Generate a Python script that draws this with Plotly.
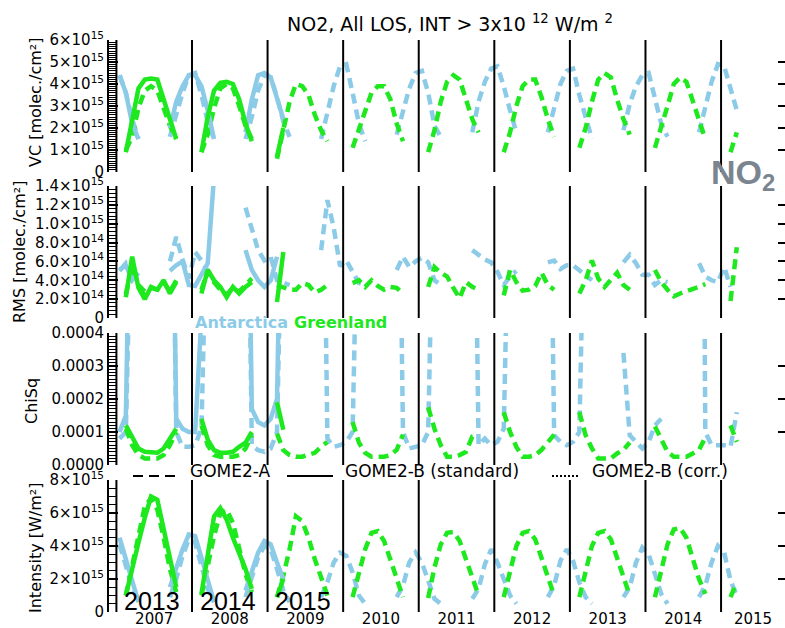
import plotly.graph_objects as go

N = None
YEARS_A = list(range(2007, 2016))          # GOME2-A (dashed), 2007-2015
YEARS_B = [2013, 2014, 2015]               # GOME2-B standard (solid), drawn in first three year slots
SLOTS_B = [2007, 2008, 2009]
MONTH_MID = [(m - 0.5) / 12 for m in range(1, 13)]

# ---------------- VC  (units of 1e15 molec/cm2) ----------------
vc_ant_A = [
    [4.4, 3.6, 2.4, 1.5, N, N, N, N, 1.6, 2.6, 3.6, 4.4],
    [4.5, 3.5, 2.3, 1.5, N, N, N, N, 1.5, 2.5, 3.7, 4.4],
    [4.3, 3.4, 2.3, 1.6, N, N, N, N, 1.5, 2.7, 3.9, 4.8],
    [4.9, 3.6, 2.2, 1.4, N, N, N, N, 1.7, 2.8, 3.8, 4.5],
    [4.6, 3.6, 2.1, 1.6, N, N, N, N, 1.8, 3.2, 4.1, 4.7],
    [4.8, 3.9, 2.8, 1.8, N, N, N, N, 1.8, 3.0, 4.0, 4.6],
    [4.7, 3.5, 2.4, 1.5, N, N, N, N, 1.9, 3.1, 3.9, 4.4],
    [4.5, 3.3, 2.2, 1.6, N, N, N, N, 1.8, 3.0, 4.1, 4.9],
    [4.8, 3.8, 2.8],
]
vc_gre_A = [
    [N, 1.0, 1.6, 2.9, 3.7, 3.9, 3.7, 2.9, 2.1, 1.5, N, N],
    [N, 0.9, 1.7, 2.9, 3.8, 4.0, 3.8, 3.0, 2.1, 1.5, N, N],
    [N, 0.6, 1.9, 3.2, 4.0, 3.9, 3.5, 2.6, 1.9, 1.4, N, N],
    [N, 1.1, 1.9, 2.8, 3.6, 3.9, 3.9, 3.3, 2.2, 1.4, N, N],
    [N, 0.9, 1.9, 3.2, 4.1, 4.4, 4.2, 3.3, 2.4, 1.8, N, N],
    [N, 0.9, 1.8, 3.0, 3.9, 4.2, 4.2, 3.4, 2.4, 1.6, N, N],
    [N, 1.1, 2.0, 3.2, 4.2, 4.5, 4.3, 3.3, 2.4, 1.7, N, N],
    [N, 1.1, 2.0, 3.0, 4.0, 4.3, 4.1, 3.2, 2.3, 1.5, N, N],
    [N, 0.9, 1.8],
]
vc_ant_B = [
    [4.4, 3.6, 2.2, 1.5, N, N, N, N, 2.0, 3.2, 3.9, 4.4],
    [4.4, 3.9, 2.8, 1.5, N, N, N, N, 1.8, 3.3, 4.4, 4.5],
    [4.3, 3.3, 2.4],
]
vc_gre_B = [
    [N, 0.9, 2.3, 3.8, 4.2, 4.25, 4.2, 3.3, 2.4, 1.5, N, N],
    [N, 0.9, 2.5, 3.7, 4.05, 4.1, 4.0, 3.3, 2.2, 1.4, N, N],
    [N, 0.7, 2.0],
]

# ---------------- RMS  (units of 1e14 molec/cm2) ----------------
rms_ant_A = [
    [5.0, 5.8, 4.6, 4.0, N, N, N, N, 6.0, 8.6, 6.2, 4.2],
    [7.0, 6.1, 5.0, 4.2, N, N, N, N, 11.7, 9.3, 7.2, 6.1],
    [6.5, 4.0, 3.8, 3.5, N, N, N, N, 7.2, 12.5, 9.6, 5.5],
    [6.1, 4.8, 3.7, 3.5, N, N, N, N, 5.1, 6.5, 5.4, 6.0],
    [6.4, 5.9, 4.0, 3.5, N, N, N, N, 7.2, 6.7, 6.2, 5.9],
    [4.9, 3.5, 4.4, 5.0, N, N, N, N, 5.9, 6.1, 5.2, 5.6],
    [5.6, 5.1, 4.6, 4.0, N, N, N, N, 5.9, 6.7, 5.8, 4.6],
    [4.6, 3.5, 4.0, 3.8, N, N, N, N, 5.8, 4.4, 4.0, 3.8],
    [5.4, 3.3],
]
rms_gre_A = [
    [N, 2.5, 5.5, 3.5, 2.8, 3.2, 3.0, 3.8, 2.8, 4.0, N, N],
    [N, 3.0, 5.0, 3.8, 3.0, 2.5, 3.2, 2.8, 3.5, 4.2, N, N],
    [N, 3.5, 3.2, 3.0, 3.0, 3.7, 3.5, 2.7, 3.0, 3.5, N, N],
    [N, 3.7, 4.0, 3.3, 4.0, 3.4, 3.0, 3.3, 3.2, 2.6, N, N],
    [N, 3.3, 5.4, 4.8, 4.4, 3.2, 2.1, 3.8, 3.3, 3.0, N, N],
    [N, 2.4, 5.1, 3.8, 2.9, 3.0, 3.4, 4.8, 3.5, 3.0, N, N],
    [N, 2.6, 4.0, 6.1, 4.2, 3.3, 4.0, 4.8, 3.5, 3.0, N, N],
    [N, 5.1, 3.8, 3.0, 2.3, 2.6, 2.8, 3.0, 3.3, 3.6, N, N],
    [N, 1.8, 7.5],
]
rms_ant_B = [
    [5.1, 5.6, 4.0, 4.8, N, N, N, N, 5.0, 5.6, 6.0, 3.5],
    [3.4, 4.5, 5.8, 15.0, N, N, N, N, 7.2, 5.1, 4.0, 3.3],
    [4.0, 6.5],
]
rms_gre_B = [
    [N, 2.2, 6.5, 3.2, 2.0, 3.3, 3.0, 4.0, 2.6, 3.8, N, N],
    [N, 2.6, 5.1, 4.0, 3.3, 2.2, 3.3, 2.6, 3.3, 3.8, N, N],
    [N, 1.7, 7.0],
]

# ---------------- ChiSq  (units of 1e-4) ----------------
chi_ant_A = [
    [0.8, 1.0, 9, 15, N, N, N, N, 15, 1.0, 0.55, 0.55],
    [0.6, 1.1, 9, 15, N, N, N, N, 15, 0.6, 0.45, 0.4],
    [0.5, 1.0, 10, 15, N, N, N, N, 15, 0.8, 0.55, 0.6],
    [0.7, 1.0, 10, 15, N, N, N, N, 15, 1.0, 0.5, 0.55],
    [0.6, 1.0, 10, 15, N, N, N, N, 15, 0.6, 0.8, 0.6],
    [0.7, 1.1, 10, 15, N, N, N, N, 15, 0.9, 0.7, 0.6],
    [0.7, 1.0, 10, 15, N, N, N, N, 3.4, 0.9, 0.7, 0.5],
    [0.7, 1.2, 1.4, N, N, N, N, N, 30, 1.0, 0.6, 0.6],
    [0.6, 0.55, 1.6],
]
chi_gre_A = [
    [N, 1.1, 0.6, 0.3, 0.2, 0.2, 0.2, 0.3, 0.6, 1.0, N, N],
    [N, 1.2, 0.6, 0.3, 0.25, 0.25, 0.25, 0.3, 0.5, 0.9, N, N],
    [N, 0.95, 0.45, 0.3, 0.25, 0.25, 0.3, 0.37, 0.55, 0.7, N, N],
    [N, 1.3, 0.68, 0.37, 0.25, 0.25, 0.25, 0.3, 0.46, 0.92, N, N],
    [N, 1.75, 1.1, 0.6, 0.25, 0.25, 0.3, 0.4, 0.86, 0.9, N, N],
    [N, 1.6, 1.0, 0.55, 0.25, 0.25, 0.3, 0.46, 0.7, 0.92, N, N],
    [N, 1.6, 0.9, 0.5, 0.2, 0.2, 0.2, 0.35, 0.46, 0.68, N, N],
    [N, 1.17, 0.77, 0.4, 0.25, 0.25, 0.25, 0.35, 0.46, 0.83, N, N],
    [N, 1.2, 0.7],
]
chi_ant_B = [
    [1.0, 1.5, 12, 15, N, N, N, N, 15, 1.4, 1.1, 1.0],
    [1.0, 4.5, 15, 15, N, N, N, N, 15, 1.7, 1.3, 1.2],
    [1.4, 2.0, 12],
]
chi_gre_B = [
    [N, 1.2, 0.83, 0.5, 0.4, 0.37, 0.37, 0.5, 0.8, 1.1, N, N],
    [N, 1.4, 0.77, 0.45, 0.37, 0.37, 0.4, 0.55, 0.68, 1.0, N, N],
    [N, 1.9, 1.07],
]

# ---------------- Intensity  (units of 1e15 W/m2) ----------------
int_ant_A = [
    [4.1, 2.9, 1.5, 0.6, N, N, N, N, 0.9, 2.0, 3.4, 4.4],
    [4.2, 2.8, 1.4, 0.6, N, N, N, N, 0.9, 2.0, 3.3, 4.0],
    [3.8, 2.6, 1.3, 0.6, N, N, N, N, 0.9, 1.8, 3.0, 3.6],
    [3.4, 2.4, 1.0, 0.5, N, N, N, N, 0.9, 1.6, 3.0, 3.6],
    [3.0, 1.8, 0.8, 0.5, N, N, N, N, 0.8, 1.4, 2.9, 3.8],
    [3.0, 1.9, 1.0, 0.5, N, N, N, N, 0.9, 1.6, 3.1, 3.8],
    [3.1, 1.8, 0.9, 0.5, N, N, N, N, 0.9, 1.5, 3.0, 3.9],
    [3.5, 2.3, 1.1, 0.5, N, N, N, N, 0.9, 1.6, 3.0, 4.0],
    [3.6, 1.9, 1.0],
]
int_gre_A = [
    [N, 1.0, 2.8, 4.8, 6.4, 6.9, 6.2, 4.5, 2.6, 1.2, N, N],
    [N, 1.0, 2.8, 4.6, 6.0, 6.2, 5.4, 3.9, 2.3, 1.2, N, N],
    [N, 0.9, 2.2, 3.8, 5.8, 5.5, 4.5, 3.2, 2.0, 1.0, N, N],
    [N, 0.9, 2.4, 3.8, 4.8, 4.9, 4.3, 3.2, 2.0, 0.9, N, N],
    [N, 0.85, 2.7, 4.1, 4.8, 4.85, 4.3, 3.2, 2.0, 1.0, N, N],
    [N, 0.9, 2.6, 4.0, 4.8, 4.9, 4.4, 3.2, 2.0, 1.0, N, N],
    [N, 0.9, 2.6, 4.0, 4.8, 4.9, 4.4, 3.3, 2.0, 1.0, N, N],
    [N, 0.9, 2.6, 4.1, 5.0, 5.1, 4.5, 3.3, 2.0, 1.1, N, N],
    [N, 0.9, 1.8],
]
int_ant_B = [
    [4.5, 3.2, 1.8, 0.6, N, N, N, N, 1.5, 2.7, 3.8, 4.7],
    [4.6, 3.3, 1.9, 0.6, N, N, N, N, 1.3, 2.4, 3.6, 4.3],
    [4.1, 3.0, 2.0],
]
int_gre_B = [
    [N, 1.0, 2.7, 4.2, 5.7, 7.0, 6.8, 5.0, 3.2, 1.5, N, N],
    [N, 1.1, 3.5, 5.8, 6.3, 5.6, 4.5, 3.5, 2.6, 1.4, N, N],
    [N, 0.9, 2.0],
]

# tick labels
VC_TICKVALS = [0, 1, 2, 3, 4, 5, 6]
VC_TICKTEXT = ["0"] + ["%d×10<sup>15</sup>" % v for v in VC_TICKVALS[1:]]
RMS_TICKVALS = [0, 2, 4, 6, 8, 10, 12, 14]
RMS_TICKTEXT = ["0", "2.0×10<sup>14</sup>", "4.0×10<sup>14</sup>", "6.0×10<sup>14</sup>",
                "8.0×10<sup>14</sup>", "1.0×10<sup>15</sup>", "1.2×10<sup>15</sup>", "1.4×10<sup>15</sup>"]
CHI_TICKVALS = [0, 1, 2, 3, 4]
CHI_TICKTEXT = ["0.0000", "0.0001", "0.0002", "0.0003", "0.0004"]
INT_TICKVALS = [0, 2, 4, 6, 8]
INT_TICKTEXT = ["0"] + ["%d×10<sup>15</sup>" % v for v in INT_TICKVALS[1:]]

# ---------------- styling / layout ----------------
W, H = 785, 628
ANT = "#8ccbe8"
GRE = "#1ee81e"
DASH = "10px,6px"
FONT = "DejaVu Sans"
X_RANGE = [2006.902, 2015.846]
PLOT_LEFT = 109
PANEL_PX = [(40, 172), (186, 318), (333, 465), (480, 612)]
TITLE_PX = [(35, 103), (19, 252), (31, 401), (35, 548)]


def px_x(p):
    return p / W


def px_y(p):
    return 1 - p / H


def series(rows, slots, scale):
    xs, ys = [], []
    for slot, row in zip(slots, rows):
        for frac, v in zip(MONTH_MID, row):
            xs.append(slot + frac)
            ys.append(None if v is None else v * scale)
    return xs, ys


panels = [
    dict(A=(vc_ant_A, vc_gre_A), B=(vc_ant_B, vc_gre_B), scale=1e15, top=6e15,
         tv=VC_TICKVALS, tt=VC_TICKTEXT, minor=1e14, title="VC [molec./cm²]"),
    dict(A=(rms_ant_A, rms_gre_A), B=(rms_ant_B, rms_gre_B), scale=1e14, top=1.4e15,
         tv=RMS_TICKVALS, tt=RMS_TICKTEXT, minor=4e13, title="RMS [molec./cm²]"),
    dict(A=(chi_ant_A, chi_gre_A), B=(chi_ant_B, chi_gre_B), scale=1e-4, top=4e-4,
         tv=CHI_TICKVALS, tt=CHI_TICKTEXT, minor=1e-5, title="ChiSq"),
    dict(A=(int_ant_A, int_gre_A), B=(int_ant_B, int_gre_B), scale=1e15, top=8e15,
         tv=INT_TICKVALS, tt=INT_TICKTEXT, minor=5e14, title="Intensity [W/m²]"),
]

fig = go.Figure()
layout = dict(width=W, height=H, margin=dict(l=0, r=0, t=0, b=0, autoexpand=False),
              paper_bgcolor="white", plot_bgcolor="white", showlegend=False,
              font=dict(family=FONT, color="black"))
shapes, annotations = [], []

mid_ticks = [min(y + 0.5, (y + X_RANGE[1]) / 2) for y in YEARS_A]
layout["xaxis"] = dict(domain=[px_x(PLOT_LEFT), 1], range=X_RANGE, anchor="y4", automargin=False,
                       tickmode="array", tickvals=mid_ticks, ticktext=[str(y) for y in YEARS_A],
                       ticks="", showline=False, showgrid=False, zeroline=False,
                       ticklabelstandoff=-4,
                       tickfont=dict(family=FONT, size=15, color="black"))

for i, p in enumerate(panels):
    k = i + 1
    yname = "y" if k == 1 else "y%d" % k
    ykey = "yaxis" if k == 1 else "yaxis%d" % k
    top_px, bot_px = PANEL_PX[i]
    dom = [px_y(bot_px), px_y(top_px)]
    tickvals = [v * p["scale"] for v in p["tv"]]
    layout[ykey] = dict(domain=dom, range=[0, p["top"]], anchor="x", automargin=False,
                        tickmode="array", tickvals=tickvals, ticktext=p["tt"],
                        ticks="inside", ticklen=9, tickwidth=1.5, tickcolor="black",
                        showline=True, linewidth=2, linecolor="black",
                        showgrid=False, zeroline=False,
                        tickfont=dict(family=FONT, size=15, color="black"))
    # right-hand mirrored major ticks
    rk = k + 4
    layout["yaxis%d" % rk] = dict(overlaying=yname, side="right", anchor="x", automargin=False,
                                  range=[0, p["top"]], tickmode="array", tickvals=tickvals,
                                  showticklabels=False, ticks="inside", ticklen=7, tickwidth=2,
                                  tickcolor="black", showline=False, showgrid=False, zeroline=False)
    # left-hand minor ticks
    mk = k + 8
    layout["yaxis%d" % mk] = dict(overlaying=yname, side="left", anchor="x", automargin=False,
                                  range=[0, p["top"]], tickmode="linear", tick0=0, dtick=p["minor"],
                                  showticklabels=False, ticks="inside", ticklen=7, tickwidth=1,
                                  tickcolor="black", showline=False, showgrid=False, zeroline=False)
    for extra in (rk, mk):
        fig.add_trace(go.Scatter(x=[None], y=[None], yaxis="y%d" % extra, xaxis="x",
                                 showlegend=False, hoverinfo="skip"))

    ant_A, gre_A = p["A"]
    ant_B, gre_B = p["B"]
    for rows, slots, color, dash in [(ant_A, YEARS_A, ANT, DASH), (gre_A, YEARS_A, GRE, DASH),
                                     (ant_B, SLOTS_B, ANT, "solid"), (gre_B, SLOTS_B, GRE, "solid")]:
        xs, ys = series(rows, slots, p["scale"])
        fig.add_trace(go.Scatter(x=xs, y=ys, mode="lines", xaxis="x", yaxis=yname,
                                 line=dict(color=color, width=4.5, dash=dash),
                                 connectgaps=False, showlegend=False))

    for yr in YEARS_A:
        shapes.append(dict(type="line", xref="x", yref="%s domain" % yname,
                           x0=yr, x1=yr, y0=0, y1=1, line=dict(color="black", width=2)))

    tx, ty = TITLE_PX[i]
    annotations.append(dict(text=p["title"], xref="paper", yref="paper",
                            x=px_x(tx), y=px_y(ty), textangle=-90,
                            xanchor="center", yanchor="middle", showarrow=False,
                            font=dict(family=FONT, size=16, color="black")))

# title
annotations.append(dict(text="NO2, All LOS, INT > 3x10 <sup>12</sup> W/m <sup>2</sup>",
                        xref="paper", yref="paper", x=px_x(450), y=px_y(23),
                        xanchor="center", yanchor="middle", showarrow=False,
                        font=dict(family=FONT, size=19, color="black")))
# region labels
annotations.append(dict(text="<b>Antarctica</b>", xref="paper", yref="paper",
                        x=px_x(193), y=px_y(322), xanchor="left", yanchor="middle",
                        showarrow=False, font=dict(family=FONT, size=16, color=ANT)))
annotations.append(dict(text="<b>Greenland</b>", xref="paper", yref="paper",
                        x=px_x(292), y=px_y(322), xanchor="left", yanchor="middle",
                        showarrow=False, font=dict(family=FONT, size=16, color=GRE)))
# NO2 label
annotations.append(dict(text="<b>NO<sub>2</sub></b>", xref="paper", yref="paper",
                        x=px_x(709), y=px_y(174), xanchor="left", yanchor="middle",
                        showarrow=False, font=dict(family="Liberation Sans", size=34, color="#7a8590")))
# legend for instruments
legend_items = [("GOME2-A", 133, 175, "10px,6px", 188),
                ("GOME2-B (standard)", 287, 333, "solid", 343),
                ("GOME2-B (corr.)", 552, 580, "2px,2px", 590)]
for label, l0, l1, dash, tx in legend_items:
    shapes.append(dict(type="line", xref="paper", yref="paper",
                       x0=px_x(l0), x1=px_x(l1), y0=px_y(476), y1=px_y(476),
                       line=dict(color="black", width=2, dash=dash)))
    annotations.append(dict(text=label, xref="paper", yref="paper", x=px_x(tx), y=px_y(471),
                            xanchor="left", yanchor="middle", showarrow=False,
                            font=dict(family=FONT, size=17, color="black")))
# big year labels for the GOME2-B years in the first three slots
for yr, slot in zip(YEARS_B, SLOTS_B):
    annotations.append(dict(text=str(yr), xref="x", yref="paper", x=slot + 0.47, y=px_y(601),
                            xanchor="center", yanchor="middle", showarrow=False,
                            font=dict(family="Liberation Sans", size=25, color="black")))

layout["shapes"] = shapes
layout["annotations"] = annotations
fig.update_layout(**layout)
fig.write_html("out.html")
